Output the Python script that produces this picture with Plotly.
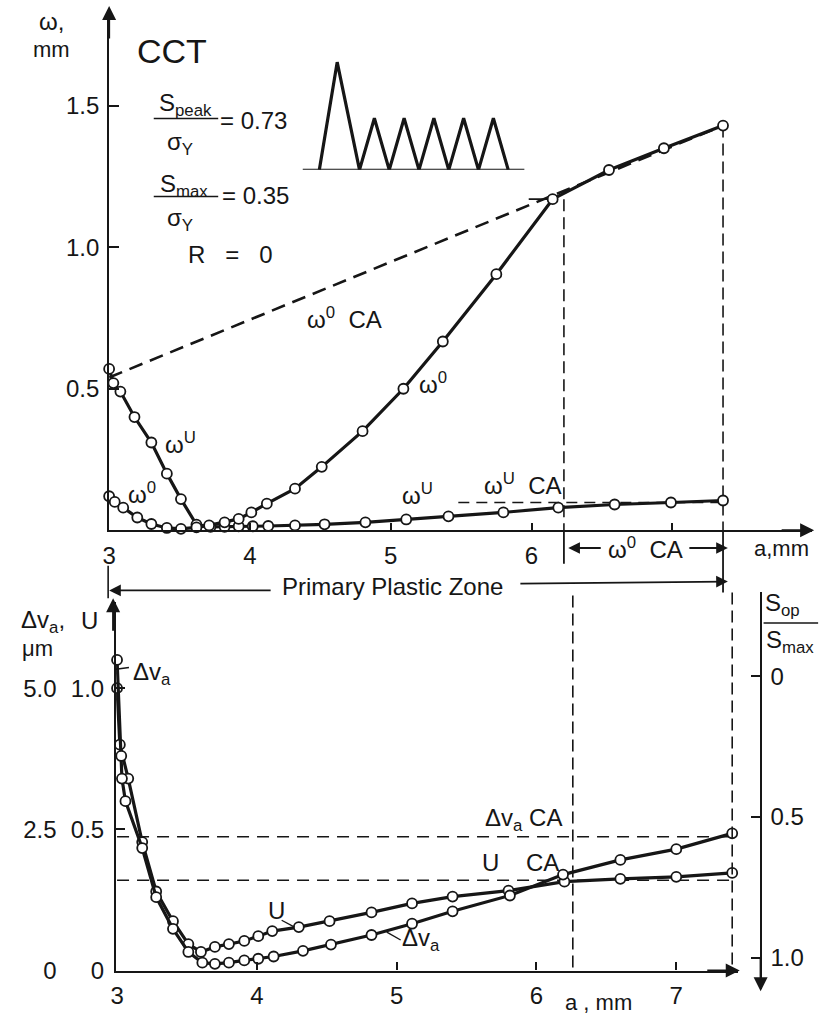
import plotly.graph_objects as go

# ---------------- data ----------------
# upper panel: crack opening omega (mm) vs crack length a (mm)
om0_a = [3.00, 3.04, 3.10, 3.20, 3.30, 3.41, 3.51, 3.62, 3.71, 3.82, 3.92, 4.01, 4.12,
         4.32, 4.51, 4.80, 5.09, 5.37, 5.75, 6.15, 6.55, 6.94, 7.36]
om0 = [0.12, 0.10, 0.08, 0.045, 0.022, 0.008, 0.005, 0.010, 0.017, 0.028, 0.040, 0.063, 0.094,
       0.147, 0.224, 0.35, 0.50, 0.667, 0.905, 1.17, 1.273, 1.35, 1.43]

omU_a = [3.00, 3.03, 3.08, 3.18, 3.30, 3.41, 3.51, 3.62, 3.72, 3.82, 3.92, 4.02, 4.13,
         4.32, 4.53, 4.82, 5.11, 5.41, 5.80, 6.19, 6.59, 6.99, 7.36]
omU = [0.57, 0.52, 0.49, 0.40, 0.31, 0.20, 0.11, 0.02, 0.012, 0.012, 0.014, 0.014, 0.015,
       0.017, 0.021, 0.028, 0.038, 0.049, 0.063, 0.080, 0.091, 0.098, 0.105]

om0_ca_a = [3.00, 7.36]
om0_ca = [0.54, 1.43]
omU_ca_a = [5.48, 7.36]
omU_ca = [0.098, 0.098]
knee_a = [5.98, 6.13]
knee_w = [1.17, 1.17]
v_top_a = [6.23, 7.36]        # a of the vertical dashed lines, upper panel
v_top_w = [1.17, 1.43]

# lower panel: U and delta v_a vs a
U_a = [3.00, 3.02, 3.08, 3.18, 3.28, 3.40, 3.51, 3.60, 3.70, 3.80, 3.91, 4.01, 4.11,
       4.30, 4.52, 4.82, 5.11, 5.40, 5.80, 6.20, 6.60, 7.00, 7.40]
U = [1.00, 0.80, 0.68, 0.455, 0.28, 0.175, 0.094, 0.066, 0.084, 0.094, 0.105, 0.122, 0.140,
     0.154, 0.175, 0.206, 0.238, 0.262, 0.283, 0.315, 0.325, 0.332, 0.346]

dva_a = [3.00, 3.03, 3.035, 3.06, 3.18, 3.28, 3.40, 3.51, 3.61, 3.70, 3.80, 3.91, 4.01,
         4.12, 4.33, 4.53, 4.82, 5.11, 5.40, 5.81, 6.19, 6.60, 7.00, 7.40]
dva = [5.5, 3.8, 3.4, 3.0, 2.17, 1.30, 0.74, 0.33, 0.14, 0.12, 0.14, 0.18, 0.21,
       0.25, 0.35, 0.46, 0.63, 0.83, 1.05, 1.33, 1.70, 1.96, 2.15, 2.43]   # micrometres

dva_ca_a = [3.00, 7.40]
dva_ca = [2.37, 2.37]
U_ca_a = [3.00, 7.40]
U_ca = [0.32, 0.32]
v_low_a = [6.26, 7.40]

# load sequence inset
load_t = [0, 1.2, 2.7, 3.7, 4.7, 5.7, 6.7, 7.7, 8.7, 9.7, 10.7, 11.7, 12.7]
load_s = [0, 0.73, 0, 0.35, 0, 0.35, 0, 0.35, 0, 0.35, 0, 0.35, 0]
load_base_t = [-1.13, 13.8]
load_base_s = [0, 0]

# tick labels
top_xticks = [3, 4, 5, 6, 7]
top_xtext = ['3', '4', '5', '6', '']
top_yticks = [0.5, 1.0, 1.5]
top_ytext = ['0.5', '1.0', '1.5']
low_xticks = [3, 4, 5, 6, 7]
low_xtext = ['3', '4', '5', '6', '7']
U_ticks = [0, 0.5, 1.0]
U_text = ['0', '0.5', '1.0']
dva_ticks = [0, 2.5, 5.0]
dva_text = ['0', '2.5', '5.0']
sop_ticks = [0, 0.5, 1.0]
sop_text = ['0', '0.5', '1.0']

# ---------------- layout helpers ----------------
W, H = 831, 1031
def fx(p):
    return p / W
def fy(p):
    return 1 - p / H

INK = '#161616'
FONT = 'Liberation Sans, Arial, DejaVu Sans, sans-serif'
FS = 24

fig = go.Figure()

line_kw = dict(color=INK, width=3.2)
mark_kw = dict(symbol='circle', size=10, color='white', line=dict(color=INK, width=1.8))

# upper panel traces
fig.add_trace(go.Scatter(x=om0_ca_a, y=om0_ca, mode='lines', xaxis='x', yaxis='y',
                         line=dict(color=INK, width=2.6, dash='14px,8px')))
fig.add_trace(go.Scatter(x=omU_ca_a, y=omU_ca, mode='lines', xaxis='x', yaxis='y',
                         line=dict(color=INK, width=1.6, dash='11px,7px')))
fig.add_trace(go.Scatter(x=knee_a, y=knee_w, mode='lines', xaxis='x', yaxis='y',
                         line=dict(color=INK, width=1.6)))
for a, w in zip(v_top_a, v_top_w):
    fig.add_trace(go.Scatter(x=[a, a], y=[w, 0], mode='lines', xaxis='x', yaxis='y',
                             line=dict(color=INK, width=1.6, dash='12px,6px')))
fig.add_trace(go.Scatter(x=omU_a, y=omU, mode='lines+markers', xaxis='x', yaxis='y',
                         line=line_kw, marker=mark_kw, cliponaxis=False))
fig.add_trace(go.Scatter(x=om0_a, y=om0, mode='lines+markers', xaxis='x', yaxis='y',
                         line=line_kw, marker=mark_kw, cliponaxis=False))

# lower panel traces
fig.add_trace(go.Scatter(x=U_ca_a, y=U_ca, mode='lines', xaxis='x2', yaxis='y2',
                         line=dict(color=INK, width=1.6, dash='12px,8px')))
fig.add_trace(go.Scatter(x=dva_ca_a, y=dva_ca, mode='lines', xaxis='x2', yaxis='y3',
                         line=dict(color=INK, width=1.6, dash='12px,8px')))
fig.add_trace(go.Scatter(x=U_a, y=U, mode='lines+markers', xaxis='x2', yaxis='y2',
                         line=line_kw, marker=mark_kw, cliponaxis=False))
fig.add_trace(go.Scatter(x=dva_a, y=dva, mode='lines+markers', xaxis='x2', yaxis='y3',
                         line=line_kw, marker=mark_kw, cliponaxis=False))

# right axis dummy
fig.add_trace(go.Scatter(x=[None], y=[None], xaxis='x3', yaxis='y4', mode='lines'))

# inset load spectrum
fig.add_trace(go.Scatter(x=load_base_t, y=load_base_s, mode='lines', xaxis='x4', yaxis='y5',
                         line=dict(color=INK, width=2.2)))
fig.add_trace(go.Scatter(x=load_t, y=load_s, mode='lines', xaxis='x4', yaxis='y5',
                         line=dict(color=INK, width=3.2)))

axis_common = dict(showgrid=False, zeroline=False, linecolor=INK, tickcolor=INK,
                   tickfont=dict(family=FONT, size=FS, color=INK), fixedrange=True)

fig.update_layout(
    width=W, height=H, autosize=False,
    margin=dict(l=0, r=0, t=0, b=0),
    paper_bgcolor='white', plot_bgcolor='rgba(0,0,0,0)',
    showlegend=False,
    font=dict(family=FONT, size=FS, color=INK),
    xaxis=dict(axis_common, domain=[fx(103), fx(812)], range=[3, 7.993], anchor='y',
               showline=True, linewidth=2, ticks='inside', ticklen=7, tickwidth=1.6,
               tickmode='array', tickvals=top_xticks, ticktext=top_xtext, ticklabelstandoff=3),
    yaxis=dict(axis_common, domain=[fy(537), fy(10)], range=[0, 1.839], anchor='x',
               showline=True, linewidth=2, ticks='inside', ticklen=10, tickwidth=1.6,
               tickmode='array', tickvals=top_yticks, ticktext=top_ytext, ticklabelstandoff=3),
    xaxis2=dict(axis_common, domain=[fx(110), fx(737)], range=[2.993, 7.44], anchor='y2',
                showline=True, linewidth=2.4, ticks='inside', ticklen=8, tickwidth=1.6,
                tickmode='array', tickvals=low_xticks, ticktext=low_xtext, ticklabelstandoff=2),
    yaxis2=dict(axis_common, domain=[fy(983), fy(610)], range=[0, 1.304], anchor='x2',
                showline=True, linewidth=2.2, ticks='inside', ticklen=9, tickwidth=1.6,
                tickmode='array', tickvals=U_ticks, ticktext=U_text, ticklabelstandoff=5),
    yaxis3=dict(axis_common, overlaying='y2', anchor='free', position=fx(50), side='left',
                range=[0, 6.52], showline=False, ticks='',
                tickmode='array', tickvals=dva_ticks, ticktext=dva_text),
    xaxis3=dict(domain=[0.93, 0.95], anchor='y4', visible=False, fixedrange=True),
    yaxis4=dict(axis_common, domain=[fy(1002), fy(600)], range=[1.112, -0.298],
                anchor='free', position=fx(760), side='right',
                showline=True, linewidth=2, ticks='inside', ticklen=9, tickwidth=1.6,
                tickmode='array', tickvals=sop_ticks, ticktext=sop_text, ticklabelstandoff=4),
    xaxis4=dict(domain=[fx(298), fx(522)], range=[-1.133, 13.8], anchor='y5',
                visible=False, fixedrange=True),
    yaxis5=dict(domain=[fy(172), fy(55.5)], range=[0, 0.78], anchor='x4', visible=False,
                fixedrange=True),
)

shapes = []
def seg(x0, y0, x1, y1, xref='paper', yref='paper', width=1.6, dash='solid'):
    shapes.append(dict(type='line', xref=xref, yref=yref, x0=x0, y0=y0, x1=x1, y1=y1,
                       line=dict(color=INK, width=width, dash=dash)))

# vertical extensions between the panels
seg(v_top_a[0], fy(537), v_top_a[0], fy(571), xref='x', width=1.8)
seg(v_top_a[1], fy(537), v_top_a[1], fy(600), xref='x', width=1.8)
seg(v_low_a[0], fy(603), v_low_a[0], fy(983), xref='x2', dash='12px,6px')
seg(v_low_a[1], fy(600), v_low_a[1], fy(983), xref='x2', dash='12px,6px')
# left tick of primary plastic zone
seg(fx(102), fy(573), fx(102), fy(606), width=1.6)
# fraction bars
seg(fx(148), fy(120), fx(213), fy(120), width=1.6)
seg(fx(148), fy(199), fx(213), fy(199), width=1.6)
seg(fx(763), fy(631), fx(818), fy(631), width=1.6)
# leader lines
seg(fx(277), fy(932), fx(290), fy(939), width=1.4)
seg(fx(383), fy(944), fx(397), fy(952), width=1.4)
seg(fx(108), fy(678), fx(123), fy(676), width=1.4)
fig.update_layout(shapes=shapes)

ann = []
def txt(x, y, s, size=FS, xanchor='center'):
    ann.append(dict(x=fx(x), y=fy(y), xref='paper', yref='paper', text=s, showarrow=False,
                    xanchor=xanchor, yanchor='middle', font=dict(family=FONT, size=size, color=INK)))

def arrow(xh, yh, xt, yt, width=1.8, size=1.3):
    ann.append(dict(x=fx(xh), y=fy(yh), xref='paper', yref='paper', text='',
                    ax=xt - xh, ay=yt - yh, axref='pixel', ayref='pixel', showarrow=True,
                    arrowhead=2, arrowsize=size, arrowwidth=width, arrowcolor=INK))

# axis arrows
arrow(103, 6, 103, 40, width=2, size=1.4)
arrow(814, 537, 780, 537, width=2, size=1.4)
arrow(107, 606, 107, 640, width=2, size=1.4)
arrow(739, 983, 705, 983, width=2, size=1.4)
arrow(760, 1004, 760, 970, width=2, size=1.4)

# upper panel texts
txt(45, 22, 'ω,')
txt(45, 50, 'mm', size=22)
txt(166, 52, 'CCT', size=34)
txt(180, 106, 'S<sub>peak</sub>')
txt(174, 145, 'σ<sub>Y</sub>')
txt(249, 122, '= 0.73')
txt(178, 188, 'S<sub>max</sub>')
txt(174, 222, 'σ<sub>Y</sub>')
txt(251, 198, '= 0.35')
txt(225, 258, 'R   =   0')
txt(340, 322, 'ω<sup>0</sup>  CA')
txt(175, 449, 'ω<sup>U</sup>')
txt(136, 499, 'ω<sup>0</sup>')
txt(430, 388, 'ω<sup>0</sup>')
txt(414, 500, 'ω<sup>U</sup>')
txt(520, 490, 'ω<sup>U</sup>  CA')

# bracket and zone arrows
arrow(566, 555, 600, 555)
arrow(727, 555, 687, 555)
txt(644, 555, 'ω<sup>0</sup>  CA')
txt(781, 555, 'a,mm', size=22)
arrow(103, 598, 266, 598)
arrow(727, 589, 518, 591)
txt(389, 594, 'Primary Plastic Zone')

# lower panel texts
txt(36, 629, 'Δv<sub>a</sub>,')
txt(31, 657, 'μm', size=22)
txt(83, 628, 'U')
txt(146, 682, 'Δv<sub>a</sub>')
txt(521, 830, 'Δv<sub>a</sub> CA')
txt(518, 874, 'U    CA')
txt(272, 922, 'U')
txt(418, 952, 'Δv<sub>a</sub>')
txt(597, 1015, 'a , mm', size=22)
txt(782, 612, 'S<sub>op</sub>')
txt(790, 650, 'S<sub>max</sub>')

fig.update_layout(annotations=ann)

fig.write_html('out.html', config={'displayModeBar': False},
               post_script="document.body.style.margin='0';document.body.style.padding='0';"
                           "document.body.style.overflow='hidden';")
